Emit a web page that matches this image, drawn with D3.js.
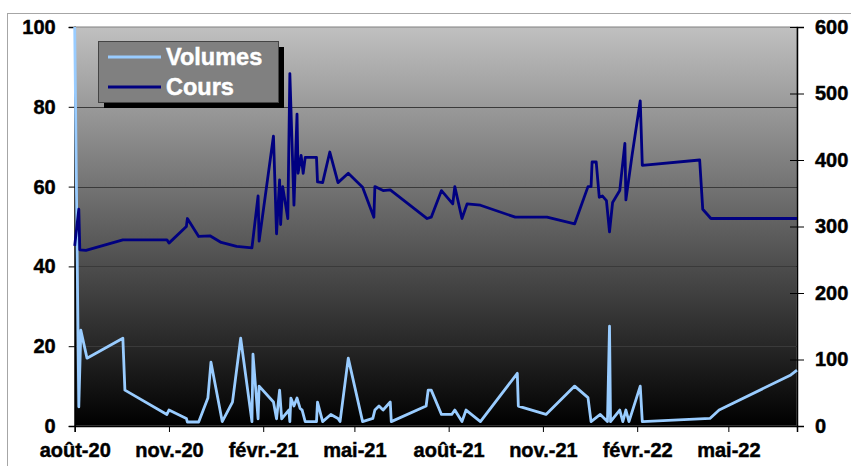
<!DOCTYPE html>
<html>
<head>
<meta charset="utf-8">
<script src="https://cdn.jsdelivr.net/npm/d3@7"></script>
<style>
body { margin: 0; background: #fff; }
svg text { font-family: "Liberation Sans", Arial, sans-serif; font-weight: bold; }
</style>
</head>
<body>
<svg id="chart" width="851" height="466"></svg>
<script>
// Cours (axe de droite)
var coursDates = ["2020-08-01","2020-08-05","2020-08-06","2020-08-12","2020-09-17","2020-10-30","2020-11-01","2020-11-18","2020-11-19","2020-11-30",
  "2020-12-11","2020-12-22","2021-01-06","2021-01-21","2021-01-27","2021-01-28","2021-02-11","2021-02-14","2021-02-17","2021-02-18",
  "2021-02-20","2021-02-25","2021-02-27","2021-03-03","2021-03-06","2021-03-07","2021-03-10","2021-03-12","2021-03-14","2021-03-25",
  "2021-03-26","2021-03-31","2021-04-07","2021-04-15","2021-04-25","2021-05-09","2021-05-20","2021-05-21","2021-05-29","2021-06-05",
  "2021-07-11","2021-07-15","2021-07-25","2021-08-05","2021-08-07","2021-08-14","2021-08-19","2021-09-01","2021-10-05","2021-11-05",
  "2021-12-02","2021-12-15","2021-12-18","2021-12-19","2021-12-23","2021-12-26","2021-12-29","2022-01-02","2022-01-05","2022-01-08",
  "2022-01-15","2022-01-20","2022-01-21","2022-01-27","2022-02-04","2022-02-06","2022-04-03","2022-04-06","2022-04-14","2022-07-07"];
var coursValues = [271,326,265,264,280,280,275,300,312,285,
  286,276,270,268,346,278,436,289,370,303,
  360,312,530,332,469,380,407,380,404,404,
  367,366,412,366,380,359,314,360,354,355,
  312,314,354,334,360,312,334,332,314,314,
  304,360,360,397,397,344,346,339,292,336,
  354,425,340,407,489,392,400,326,312,312];

// Volumes (axe de gauche)
var volDates = ["2020-08-01","2020-08-05","2020-08-07","2020-08-13","2020-09-17","2020-09-19","2020-10-30","2020-11-01","2020-11-18","2020-11-19",
  "2020-11-30","2020-12-09","2020-12-12","2020-12-23","2021-01-02","2021-01-10","2021-01-21","2021-01-22","2021-01-27","2021-01-28",
  "2021-02-11","2021-02-14","2021-02-17","2021-02-19","2021-02-26","2021-02-27","2021-02-28","2021-03-03","2021-03-06","2021-03-09",
  "2021-03-11","2021-03-14","2021-03-25","2021-03-26","2021-03-31","2021-04-08","2021-04-15","2021-04-17","2021-04-25","2021-05-09",
  "2021-05-19","2021-05-21","2021-05-25","2021-05-29","2021-06-05","2021-06-06","2021-07-10","2021-07-12","2021-07-15","2021-07-25",
  "2021-08-04","2021-08-07","2021-08-14","2021-08-18","2021-09-01","2021-10-07","2021-10-08","2021-11-04","2021-12-02","2021-12-15",
  "2021-12-18","2021-12-27","2021-12-31","2022-01-03","2022-01-05","2022-01-06","2022-01-15","2022-01-18","2022-01-21","2022-01-24",
  "2022-02-04","2022-02-06","2022-04-13","2022-04-22","2022-07-01","2022-07-07"];
var volValues = [100,4.8,24,17,22,9,2.9,4,1.9,1,
  1,7,16,1.1,6,22,1.1,18,1.8,10,
  6,1.8,9,1.8,4,1.1,7,5,7,4.4,
  4,1.1,1.1,6,1.1,2.9,1.9,1.1,17,1.1,
  1.9,4,5,4,6,1.1,5,9,9,2.9,
  2.9,4,1.1,4,1.1,13.2,5,2.9,10,7.1,
  1.1,2.9,1.9,1.1,25,1.1,4,1.1,4,1.1,
  10,1.1,1.9,4,12.8,14];

var leftTicks = [0,20,40,60,80,100];
var rightTicks = [0,100,200,300,400,500,600];
var xTickDates = ["2020-08-01","2020-11-01","2021-02-01","2021-05-01","2021-08-01","2021-11-01","2022-02-01","2022-05-01"];
var moisFr = ["janv.","févr.","mars","avr.","mai","juin","juil.","août","sept.","oct.","nov.","déc."];

var parse = d3.timeParse("%Y-%m-%d");
var svg = d3.select("#chart");
var L = 74.7, R = 797, T = 27, B = 426;

var x = d3.scaleTime().domain([parse("2020-08-01"), parse("2022-07-07")]).range([L, R]);
var yL = d3.scaleLinear().domain([0, 100]).range([B, T]);
var yR = d3.scaleLinear().domain([0, 600]).range([B, T]);

// cadre du graphique
svg.append("rect").attr("x", 7.5).attr("y", 13.5).attr("width", 900).attr("height", 500)
  .attr("fill", "none").attr("stroke", "#a6a6a6").attr("stroke-width", 1);

// fond dégradé
var grad = svg.append("defs").append("linearGradient").attr("id", "bg")
  .attr("x1", 0).attr("y1", 0).attr("x2", 0).attr("y2", 1);
grad.append("stop").attr("offset", "0%").attr("stop-color", "#c0c0c0");
grad.append("stop").attr("offset", "100%").attr("stop-color", "#000000");

svg.append("rect").attr("x", L).attr("y", T).attr("width", R - L).attr("height", B - T)
  .attr("fill", "url(#bg)").attr("stroke", "#808080").attr("stroke-width", 1);

// quadrillage
svg.append("g").selectAll("line").data(leftTicks.filter(function(d) { return d > 0 && d < 100; }))
  .enter().append("line")
  .attr("x1", L).attr("x2", R)
  .attr("y1", function(d) { return Math.round(yL(d)) + 0.5; })
  .attr("y2", function(d) { return Math.round(yL(d)) + 0.5; })
  .attr("stroke", "#3a3a3a").attr("stroke-width", 1.2);

// axes
var axL = svg.append("g").attr("transform", "translate(" + L + ",0)")
  .call(d3.axisLeft(yL).tickValues(leftTicks).tickSize(6).tickPadding(13));
var axR = svg.append("g").attr("transform", "translate(" + R + ",0)")
  .call(d3.axisRight(yR).tickValues(rightTicks).tickSize(7).tickPadding(11));
axR.selectAll(".tick line").attr("x1", -7);
var axX = svg.append("g").attr("transform", "translate(0," + B + ")")
  .call(d3.axisBottom(x).tickValues(xTickDates.map(parse)).tickSize(6).tickPadding(11)
    .tickFormat(function(d) { return moisFr[d.getMonth()] + "-" + d3.timeFormat("%y")(d); }));

[axL, axR, axX].forEach(function(a) {
  a.select(".domain").attr("stroke", "#000").attr("stroke-width", 1.5);
  a.selectAll(".tick line").attr("stroke", "#000");
  a.selectAll("text").attr("font-size", "20px").attr("fill", "#000")
    .attr("stroke", "#000").attr("stroke-width", 0.45)
    .attr("font-family", "'Liberation Sans', Arial, sans-serif").attr("font-weight", "bold");
});

// séries
var lineVol = d3.line()
  .x(function(d, i) { return x(parse(volDates[i])); })
  .y(function(d) { return yL(d); });
var lineCours = d3.line()
  .x(function(d, i) { return x(parse(coursDates[i])); })
  .y(function(d) { return yR(d); });

svg.append("path").datum(volValues).attr("d", lineVol)
  .attr("fill", "none").attr("stroke", "#99ccff").attr("stroke-width", 2.8).attr("stroke-linejoin", "round");
svg.append("path").datum(coursValues).attr("d", lineCours)
  .attr("fill", "none").attr("stroke", "#000080").attr("stroke-width", 2.8).attr("stroke-linejoin", "round");

// légende
var leg = svg.append("g");
leg.append("rect").attr("x", 104).attr("y", 47).attr("width", 180).attr("height", 61).attr("fill", "#000");
leg.append("rect").attr("x", 98.5).attr("y", 41.5).attr("width", 180).attr("height", 61)
  .attr("fill", "#808080").attr("stroke", "#444").attr("stroke-width", 1);
var legItems = [{name: "Volumes", color: "#99ccff", y: 57}, {name: "Cours", color: "#000080", y: 87}];
var item = leg.selectAll("g.item").data(legItems).enter().append("g").attr("class", "item");
item.append("line").attr("x1", 108).attr("x2", 161)
  .attr("y1", function(d) { return d.y; }).attr("y2", function(d) { return d.y; })
  .attr("stroke", function(d) { return d.color; }).attr("stroke-width", 3);
item.append("text").attr("x", 166).attr("y", function(d) { return d.y + 7.5; })
  .attr("fill", "#fff").attr("stroke", "#fff").attr("stroke-width", 0.45).attr("font-size", "23.5px")
  .text(function(d) { return d.name; });
</script>
</body>
</html>
